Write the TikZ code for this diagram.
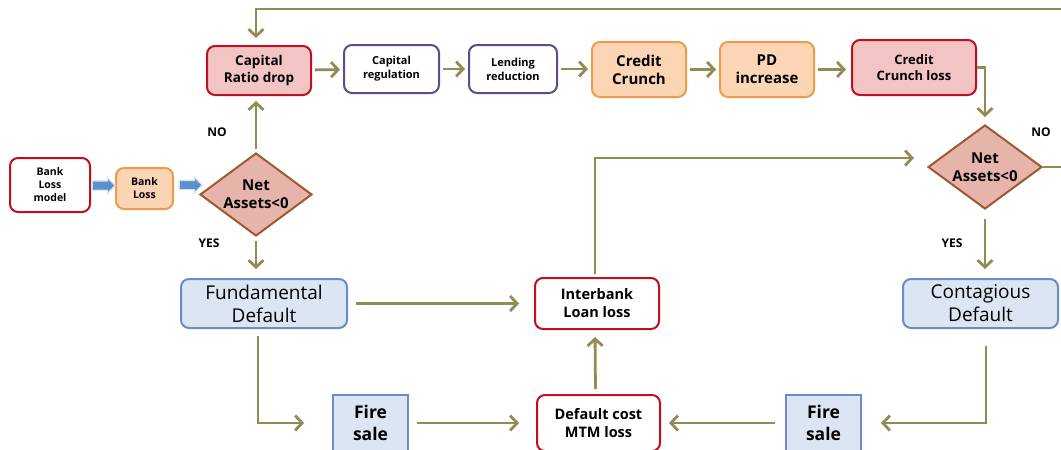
\documentclass[tikz,border=0pt]{standalone}
\usepackage{fontspec}
\setmainfont{Open Sans}
\usetikzlibrary{arrows.meta,shapes.geometric,shapes.arrows}

\definecolor{flowc}{HTML}{948A54}
\definecolor{redb}{HTML}{C0101E}
\definecolor{pinkf}{HTML}{F2C4C4}
\definecolor{diaf}{HTML}{E6B4AA}
\definecolor{diab}{HTML}{9C5A2E}
\definecolor{orangef}{HTML}{FCD5B4}
\definecolor{orangeb}{HTML}{F09A4A}
\definecolor{purpleb}{HTML}{5F4B8B}
\definecolor{bluef}{HTML}{DCE6F2}
\definecolor{blueb}{HTML}{6A8EC4}
\definecolor{blockc}{HTML}{5B8FD0}

\tikzset{
  box/.style={rounded corners=8pt, line width=2pt, align=center, inner sep=0pt},
  redbox/.style={box, draw=redb, fill=white},
  pinkbox/.style={box, draw=redb, fill=pinkf},
  orangebox/.style={box, draw=orangeb, fill=orangef},
  purplebox/.style={box, draw=purpleb, fill=white},
  bluebox/.style={box, draw=blueb, fill=bluef},
  firebox/.style={line width=2pt, draw=blueb, fill=bluef, align=center, inner sep=0pt,
                  minimum width=75pt, minimum height=56pt},
  decision/.style={diamond, draw=diab, fill=diaf, line width=2pt, inner sep=0pt},
  decisiontext/.style={align=center, font=\bfseries\fontsize{15}{18}\selectfont},
  blockarrow/.style={single arrow, fill=blockc, draw=blockc!25, line width=1.2pt,
                     inner xsep=0pt, inner ysep=4pt, minimum height=23pt,
                     single arrow head extend=3.5pt, single arrow head indent=0pt},
  flow/.style={draw=flowc, line width=2.8pt, -{Straight Barb[length=7pt,width=15pt,line width=2.8pt]}},
  tag/.style={font=\bfseries\fontsize{12}{14}\selectfont},
}

\begin{document}
\begin{tikzpicture}[x=1pt,y=-1pt]
\clip (0,0) rectangle (1061,450);
\fill[white] (0,0) rectangle (1061,450);

% entry chain
\node[redbox, minimum width=80pt, minimum height=54pt, font=\bfseries\fontsize{10.5}{13}\selectfont]
  (blm) at (50,185) {Bank\\Loss\\model};
\node[orangebox, minimum width=57pt, minimum height=41pt, font=\bfseries\fontsize{10.5}{13}\selectfont]
  (bl) at (144.5,188.5) {Bank\\Loss};
\node[decision, minimum width=112pt, minimum height=83pt,
      label={[decisiontext]center:Net\\Assets<0}] (d1) at (256,194.5) {};
\node[blockarrow] (ba1) at (101.5,185.5) {};
\node[blockarrow] (ba2) at (188.5,185) {};

% top row
\node[pinkbox, minimum width=104pt, minimum height=49pt, font=\bfseries\fontsize{13.5}{16.5}\selectfont]
  (crd) at (259,70.5) {Capital\\Ratio drop};
\node[purplebox, minimum width=95pt, minimum height=48pt, font=\bfseries\fontsize{11}{14}\selectfont]
  (creg) at (391.5,69) {Capital\\regulation};
\node[purplebox, minimum width=88pt, minimum height=48pt, font=\bfseries\fontsize{11}{14}\selectfont]
  (lend) at (513,69) {Lending\\reduction};
\node[orangebox, minimum width=94pt, minimum height=55pt, font=\bfseries\fontsize{15}{18}\selectfont]
  (cc) at (639,69.5) {Credit\\Crunch};
\node[orangebox, minimum width=94pt, minimum height=55pt, font=\bfseries\fontsize{15}{18}\selectfont]
  (pd) at (767,69.5) {PD\\increase};
\node[pinkbox, minimum width=124pt, minimum height=55pt, font=\bfseries\fontsize{13}{16}\selectfont]
  (ccl) at (914,67.5) {Credit\\Crunch loss};
\node[decision, minimum width=114pt, minimum height=84pt,
      label={[decisiontext]center:Net\\Assets<0}] (d2) at (985,167) {};

% middle row
\node[bluebox, minimum width=166pt, minimum height=49pt, font=\fontsize{19}{23}\selectfont]
  (fd) at (264,303.5) {Fundamental\\Default};
\node[redbox, minimum width=124pt, minimum height=51pt, font=\bfseries\fontsize{14.5}{18}\selectfont]
  (ib) at (597,303.5) {Interbank\\Loan loss};
\node[bluebox, minimum width=155pt, minimum height=49pt, font=\fontsize{19}{23}\selectfont]
  (cd) at (980.5,303.5) {Contagious\\Default};

% bottom row
\node[firebox, font=\bfseries\fontsize{17.5}{22}\selectfont] (fs1) at (370.5,423) {Fire\\sale};
\node[redbox, minimum width=123pt, minimum height=56pt, font=\bfseries\fontsize{14.5}{18}\selectfont]
  (dc) at (598.5,423) {Default cost\\MTM loss};
\node[firebox, font=\bfseries\fontsize{17.5}{22}\selectfont] (fs2) at (823.5,423) {Fire\\sale};

% labels
\node[tag] (no1) at (217,132) {NO};
\node[tag] (no2) at (1041,132) {NO};
\node[tag] (yes1) at (209,243) {YES};
\node[tag] (yes2) at (952,243) {YES};

% feedback loop over the top
\coordinate (loopR) at (1080,9);
\coordinate (loopL) at (256,9);
\draw[flow, shorten >=7pt] (d2.east) -| (loopR) -- (loopL) -- (loopL |- crd.north);

% connectors
\draw[flow, shorten <=3pt, shorten >=5pt] (d1.north) -- (d1.north |- crd.south);
\draw[flow, shorten <=3pt, shorten >=3pt] (crd) -- (creg);
\draw[flow, shorten <=3pt, shorten >=3pt] (creg) -- (lend);
\draw[flow, shorten <=3pt, shorten >=3pt] (lend.east) -- (cc.west |- lend.east);
\draw[flow, shorten <=3pt, shorten >=3pt] (cc) -- (pd);
\draw[flow, shorten <=3pt, shorten >=5pt] (pd.east) -- (ccl.west |- pd.east);
\draw[flow, shorten >=7pt] (ccl.east) -| (d2.north);
\draw[flow, shorten <=4pt, shorten >=9pt] (d1.south) -- (d1.south |- fd.north);
\draw[flow, shorten <=8pt, shorten >=15pt] (fd.east) -- (ib.west);
\draw[flow, shorten <=3pt, shorten >=13pt] ([xshift=-2pt]ib.north) |- ([yshift=9pt]d2.west);
\draw[flow, shorten <=9pt, shorten >=9pt] (d2.south) -- (d2.south |- cd.north);
\draw[flow, shorten <=7pt, shorten >=28pt] ([xshift=-6pt]fd.south) |- (fs1.west);
\draw[flow, shorten <=8pt, shorten >=17pt] (fs1.east) -- (dc.west);
\draw[flow, shorten <=5pt, shorten >=7pt] ([xshift=-3pt]dc.north) -- ([xshift=-2pt]ib.south);
\draw[flow, shorten <=17pt, shorten >=19pt] ([xshift=5.5pt]cd.south) |- (fs2.east);
\draw[flow, shorten <=10pt, shorten >=8pt] (fs2.west) -- (dc.east);
\end{tikzpicture}
\end{document}
